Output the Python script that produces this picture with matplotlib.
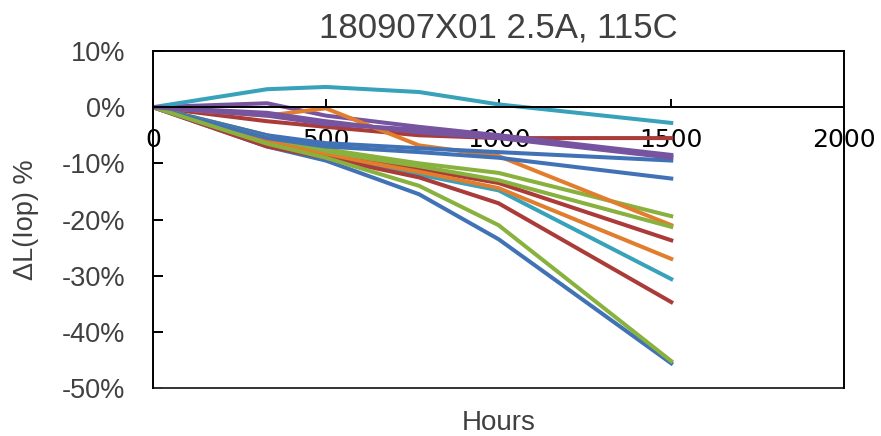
import matplotlib
matplotlib.use("Agg")
import matplotlib.pyplot as plt
from matplotlib.ticker import PercentFormatter

plt.rcParams["axes.unicode_minus"] = False

# hours at which each unit was measured
hours = [0, 330, 500, 770, 1000, 1500]

# dL(Iop) in percent, one list per unit
s01 = [0, -7.0, -9.5, -15.5, -23.5, -45.6]
s02 = [0, -2.5, -3.5, -5.0, -5.5, -5.5]
s03 = [0, -5.0, -7.5, -10.0, -11.7, -19.4]
s04 = [0, 0.7, -1.5, -3.5, -5.0, -8.5]
s05 = [0, 3.2, 3.6, 2.7, 0.5, -2.8]
s06 = [0, -1.5, -0.2, -6.8, -8.7, -21.0]
s07 = [0, -5.0, -6.4, -7.3, -8.0, -9.5]
s08 = [0, -6.0, -8.5, -11.0, -13.5, -23.7]
s09 = [0, -5.5, -8.0, -10.5, -13.0, -21.3]
s10 = [0, -1.0, -2.5, -4.5, -5.5, -9.0]
s11 = [0, -6.5, -9.0, -12.0, -14.8, -30.6]
s12 = [0, -6.0, -8.5, -11.5, -14.4, -27.0]
s13 = [0, -5.5, -7.0, -8.0, -9.0, -12.7]
s14 = [0, -7.0, -9.0, -12.5, -17.1, -34.7]
s15 = [0, -6.5, -9.0, -14.0, -21.0, -45.2]
s16 = [0, -1.5, -3.0, -4.0, -5.0, -8.8]

series = [s01, s02, s03, s04, s05, s06, s07, s08,
          s09, s10, s11, s12, s13, s14, s15, s16]

# excel 2010 style palette, repeats every 6 series
palette = ["#4272b6", "#ab3b39", "#88b13e", "#7654a0", "#38a2ba", "#e17d2d"]

title = "180907X01 2.5A, 115C"
xlabel = "Hours"
ylabel = "ΔL(Iop) %"

fig = plt.figure(figsize=(8.81, 4.36), dpi=100)
ax = fig.add_axes([0.1737, 0.110, 0.7843, 0.773])

for i, s in enumerate(series):
    ax.plot(hours, s, color=palette[i % len(palette)], lw=2.9, solid_joinstyle="round")

ax.set_xlim(0, 2000)
ax.set_ylim(-50, 10)
ax.set_xticks([0, 500, 1000, 1500, 2000])
ax.set_yticks(range(-50, 11, 10))
ax.yaxis.set_major_formatter(PercentFormatter(decimals=0))

# x axis crosses at zero like the excel chart, plot area keeps a full frame
ax.spines["bottom"].set_position(("data", 0))
for sp in ["left", "top", "right", "bottom"]:
    ax.spines[sp].set_linewidth(1.4)
    ax.spines[sp].set_color("black")
ax.axhline(-50, color="#333333", lw=1.4, clip_on=False)

ax.tick_params(axis="x", direction="in", length=6, width=1.4, pad=15,
               labelsize=18, labelcolor="black")
ax.tick_params(axis="y", direction="in", length=7, width=1.4, pad=20,
               labelsize=19.5, labelcolor="#404040")
for lbl in ax.get_xticklabels():
    lbl.set_family("DejaVu Sans")
for lbl in ax.get_yticklabels():
    lbl.set_family("Liberation Sans")
    lbl.set_horizontalalignment("right")

ax.set_title(title, fontsize=25, color="#404040", pad=10, family="Liberation Sans")
ax.set_xlabel(xlabel, fontsize=20, color="#404040", family="Liberation Sans")
ax.xaxis.set_label_coords(0.5, -0.066)
ax.set_ylabel(ylabel, fontsize=19.5, color="#404040", family="Liberation Sans")
ax.yaxis.set_label_coords(-0.165, 0.5)

fig.savefig("out.png", dpi=100)
